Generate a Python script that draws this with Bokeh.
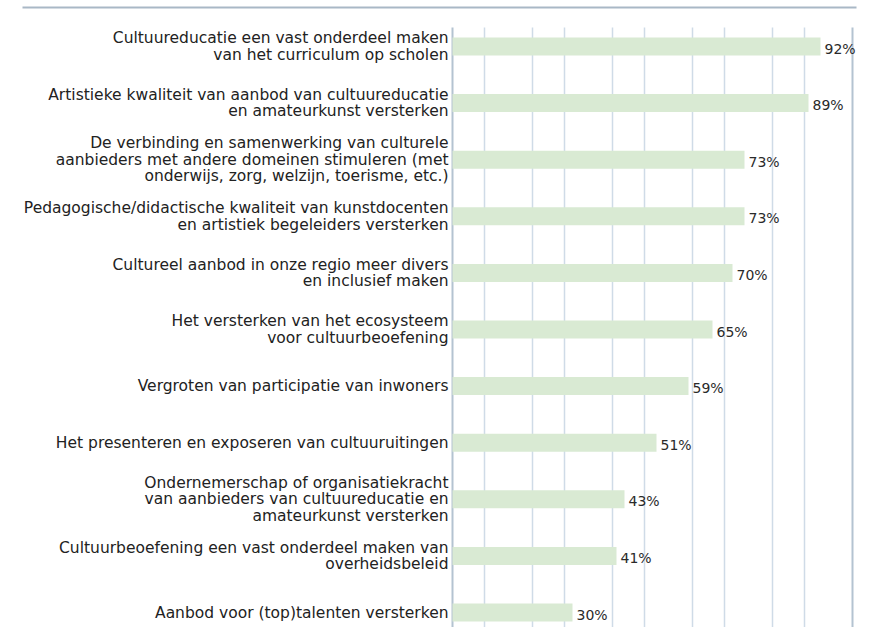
from bokeh.plotting import figure
from bokeh.models import Range1d, ColumnDataSource
from bokeh.core.properties import value
from bokeh.embed import file_html
from bokeh.resources import INLINE

categories = [
    "Cultuureducatie een vast onderdeel maken\nvan het curriculum op scholen",
    "Artistieke kwaliteit van aanbod van cultuureducatie\nen amateurkunst versterken",
    "De verbinding en samenwerking van culturele\naanbieders met andere domeinen stimuleren (met\nonderwijs, zorg, welzijn, toerisme, etc.)",
    "Pedagogische/didactische kwaliteit van kunstdocenten\nen artistiek begeleiders versterken",
    "Cultureel aanbod in onze regio meer divers\nen inclusief maken",
    "Het versterken van het ecosysteem\nvoor cultuurbeoefening",
    "Vergroten van participatie van inwoners",
    "Het presenteren en exposeren van cultuuruitingen",
    "Ondernemerschap of organisatiekracht\nvan aanbieders van cultuureducatie en\namateurkunst versterken",
    "Cultuurbeoefening een vast onderdeel maken van\noverheidsbeleid",
    "Aanbod voor (top)talenten versterken",
]
values = [92, 89, 73, 73, 70, 65, 59, 51, 43, 41, 30]
pct_labels = [f"{v}%" for v in values]
grid_ticks = [0, 8, 20, 28, 40, 48, 60, 68, 80, 88, 100]

W, H = 872, 627
px_per_unit = 4.0
x0_px = 452
step = 56.6
top_px = 46
xr = Range1d(-x0_px / px_per_unit, (W - x0_px) / px_per_unit)
yr = Range1d((H - top_px) / step, -top_px / step)

p = figure(width=W, height=H, x_range=xr, y_range=yr, output_backend="svg",
           toolbar_location=None, min_border=0)
p.axis.visible = False
p.grid.visible = False
p.outline_line_color = None
p.background_fill_color = "white"

idx = list(range(len(categories)))
src = ColumnDataSource(dict(y=idx, v=values, cat=categories, pct=pct_labels))

# gridlines
inner = [t for t in grid_ticks if t not in (0, 100)]
y_grid_top = (27 - top_px) / step
y_grid_bot = (H - top_px) / step
p.segment(x0=inner, x1=inner, y0=[y_grid_top] * len(inner), y1=[y_grid_bot] * len(inner),
          line_color="#cfdbe7", line_width=1.5)
p.segment(x0=[0, 100], x1=[0, 100], y0=[y_grid_top] * 2, y1=[y_grid_bot] * 2,
          line_color="#b4c3d1", line_width=2)

# top rule
y_rule = (7 - top_px) / step
p.segment(x0=[(22 - x0_px) / px_per_unit], x1=[(856 - x0_px) / px_per_unit],
          y0=[y_rule], y1=[y_rule], line_color="#a9b8c6", line_width=2)

p.hbar(y="y", left=0, right="v", height=18 / step, source=src,
       fill_color="#d9ead3", line_color=None)

p.text(x="v", y="y", text="pct", source=src, x_offset=4, y_offset=2,
       text_font=value("DejaVu Sans"), text_font_size="14px", text_color="#2a2a2a",
       text_align="left", text_baseline="middle")

p.text(x=0, y="y", text="cat", source=src, x_offset=-4,
       text_font=value("DejaVu Sans"), text_font_size="15.5px", text_color="#222222",
       text_align="right", text_baseline="middle", text_line_height=0.93)

open("out.html", "w").write(file_html(p, INLINE))
